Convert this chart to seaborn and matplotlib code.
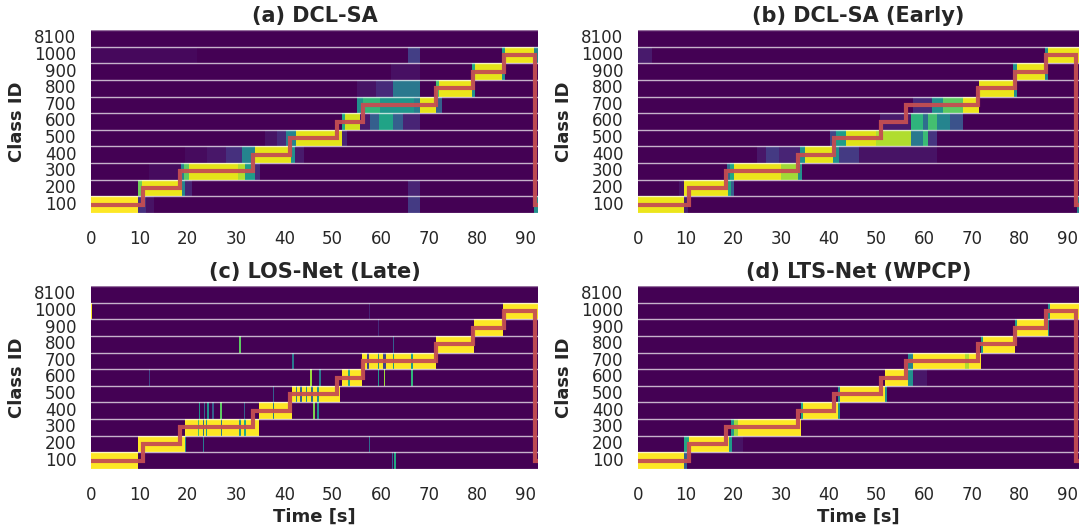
import numpy as np
import pandas as pd
import matplotlib
matplotlib.use("Agg")
import matplotlib.pyplot as plt
import seaborn as sns

# ---------------- data ----------------
CLASS_IDS = [8100, 1000, 900, 800, 700, 600, 500, 400, 300, 200, 100]
CLASS_LABELS = ["8100", "1000", "900", "800", "700", "600", "500", "400", "300", "200", "100"]
TIME_TICKS = [0, 10, 20, 30, 40, 50, 60, 70, 80, 90]
T_END = 92.5
DT = 0.1

# ground-truth class over time (step changes)
GT_TIMES = [0.0, 10.7, 18.4, 33.6, 41.1, 50.9, 56.2, 71.4, 79.0, 85.5, 91.8, 92.5]
GT_CLASS = [100, 200, 300, 400, 500, 600, 700, 800, 900, 1000, 100, 100]

TITLES = ["(a) DCL-SA", "(b) DCL-SA (Early)", "(c) LOS-Net (Late)", "(d) LTS-Net (WPCP)"]

# predicted class probability segments: (class_id, start_s, end_s, prob); later entries overwrite
SEG_A = [
    (1000, 0.0, 22.0, 0.02),
    (100, 0.0, 9.7, 1.0), (100, 9.7, 11.4, 0.14), (100, 11.4, 13.0, 0.05),
    (100, 65.6, 68.1, 0.17), (100, 91.6, 92.5, 0.5),
    (200, 9.7, 10.5, 0.78), (200, 10.5, 18.9, 0.97), (200, 18.9, 19.4, 0.45), (200, 19.4, 21.0, 0.1),
    (200, 65.6, 68.1, 0.1),
    (300, 12.0, 18.7, 0.03), (300, 18.7, 19.3, 0.45), (300, 19.3, 20.2, 0.75), (300, 20.2, 30.5, 0.96),
    (300, 30.5, 31.8, 0.88), (300, 31.8, 33.9, 0.55), (300, 33.9, 35.0, 0.12),
    (400, 19.4, 24.0, 0.03), (400, 24.0, 28.0, 0.06), (400, 28.0, 31.2, 0.14), (400, 31.2, 33.9, 0.45),
    (400, 33.9, 41.4, 0.96), (400, 41.4, 42.2, 0.5), (400, 42.2, 44.0, 0.07),
    (500, 36.0, 38.5, 0.05), (500, 38.5, 40.3, 0.12), (500, 40.3, 42.5, 0.45), (500, 42.5, 51.9, 0.96),
    (500, 51.9, 53.0, 0.1),
    (600, 51.9, 52.6, 0.6), (600, 52.6, 55.7, 0.93), (600, 55.7, 57.7, 0.07), (600, 57.7, 59.5, 0.3),
    (600, 59.5, 62.5, 0.58), (600, 62.5, 64.5, 0.3), (600, 64.5, 68.1, 0.1),
    (700, 55.0, 56.3, 0.5), (700, 56.3, 59.8, 0.66), (700, 59.8, 66.8, 0.52), (700, 66.8, 68.1, 0.42),
    (700, 68.1, 71.3, 0.96), (700, 71.3, 72.7, 0.3),
    (800, 55.0, 59.0, 0.05), (800, 59.0, 62.5, 0.12), (800, 62.5, 68.1, 0.4), (800, 71.3, 72.0, 0.7),
    (800, 72.0, 78.8, 0.97), (800, 78.8, 79.5, 0.5),
    (900, 62.0, 68.0, 0.04), (900, 78.8, 79.5, 0.6), (900, 79.5, 85.0, 0.96), (900, 85.0, 85.7, 0.5),
    (1000, 65.6, 68.1, 0.18), (1000, 85.0, 85.7, 0.55), (1000, 85.7, 91.6, 0.97), (1000, 91.6, 92.5, 0.45),
]

SEG_B = [
    (1000, 0.0, 3.0, 0.07),
    (100, 0.0, 9.7, 0.97), (100, 9.7, 10.5, 0.08), (100, 92.0, 92.5, 0.45),
    (200, 8.5, 9.7, 0.05), (200, 9.7, 18.9, 0.97), (200, 18.9, 19.5, 0.6), (200, 19.5, 20.1, 0.3),
    (300, 18.7, 19.3, 0.35), (300, 19.3, 20.1, 0.6), (300, 20.1, 30.0, 0.97), (300, 30.0, 33.5, 0.86),
    (300, 33.5, 34.3, 0.5),
    (400, 24.9, 26.9, 0.06), (400, 26.9, 29.6, 0.17), (400, 29.6, 33.9, 0.1), (400, 33.9, 35.0, 0.5),
    (400, 35.0, 40.8, 0.96), (400, 40.8, 42.2, 0.5), (400, 42.2, 46.3, 0.17), (400, 46.3, 62.7, 0.05),
    (500, 40.2, 41.5, 0.2), (500, 41.5, 43.6, 0.55), (500, 43.6, 50.0, 0.95), (500, 50.0, 57.3, 0.88),
    (500, 57.3, 59.8, 0.4), (500, 59.8, 60.8, 0.68), (500, 60.8, 62.7, 0.15),
    (600, 50.8, 57.3, 0.07), (600, 57.3, 59.8, 0.65), (600, 59.8, 60.8, 0.35), (600, 60.8, 62.8, 0.7),
    (600, 62.8, 65.5, 0.45), (600, 65.5, 68.2, 0.25),
    (700, 57.7, 61.6, 0.12), (700, 61.6, 64.0, 0.5), (700, 64.0, 68.2, 0.75), (700, 68.2, 71.5, 0.97),
    (800, 71.5, 78.9, 0.97), (800, 78.9, 79.6, 0.5),
    (900, 78.6, 79.4, 0.5), (900, 79.4, 85.3, 0.97), (900, 85.3, 86.0, 0.45),
    (1000, 85.3, 86.0, 0.5), (1000, 86.0, 92.5, 0.97),
]

SEG_C = [
    (1000, 0.0, 0.3, 1.0), (1000, 57.5, 57.8, 0.1), (1000, 85.2, 92.5, 1.0),
    (100, 0.0, 9.7, 1.0), (100, 62.6, 63.2, 0.6), (100, 62.2, 62.5, 0.3),
    (200, 9.7, 19.4, 1.0), (200, 19.4, 19.7, 0.5), (200, 23.1, 23.4, 0.4), (200, 57.5, 57.8, 0.35),
    (300, 19.4, 34.7, 1.0), (300, 22.1, 22.4, 0.7), (300, 23.1, 23.4, 0.35), (300, 23.7, 24.0, 0.55),
    (300, 26.8, 27.1, 0.4), (300, 30.7, 31.0, 0.5), (300, 31.7, 32.0, 0.6),
    (400, 22.3, 22.6, 0.5), (400, 23.3, 23.6, 0.35), (400, 24.1, 24.4, 0.5), (400, 25.1, 25.4, 0.3),
    (400, 26.7, 27.1, 0.75), (400, 31.6, 31.9, 0.3), (400, 34.7, 41.5, 1.0), (400, 37.6, 37.9, 0.4),
    (400, 45.9, 46.4, 0.8), (400, 46.8, 47.1, 0.5),
    (500, 37.6, 37.9, 0.3), (500, 41.5, 51.6, 1.0), (500, 42.4, 42.7, 0.45), (500, 43.3, 43.6, 0.3),
    (500, 44.4, 44.7, 0.5), (500, 45.6, 45.9, 0.35), (500, 46.8, 47.2, 0.5),
    (600, 12.0, 12.3, 0.2), (600, 45.3, 45.7, 0.85), (600, 47.2, 47.5, 0.4), (600, 51.9, 56.0, 1.0),
    (600, 53.2, 53.5, 0.6), (600, 59.4, 59.7, 0.5), (600, 60.6, 60.9, 0.85), (600, 66.3, 66.6, 0.65),
    (700, 41.6, 42.1, 0.4), (700, 56.0, 71.4, 1.0), (700, 57.2, 57.5, 0.2), (700, 59.4, 59.7, 0.5),
    (700, 60.4, 61.0, 0.2), (700, 62.5, 62.8, 0.5), (700, 66.3, 66.6, 0.55),
    (800, 30.7, 31.0, 0.75), (800, 62.5, 62.8, 0.3), (800, 71.4, 79.3, 1.0),
    (900, 59.4, 59.7, 0.12), (900, 79.3, 85.2, 1.0),
]

SEG_D = [
    (100, 0.0, 9.75, 1.0), (100, 9.75, 10.2, 0.3),
    (200, 9.75, 10.8, 0.6), (200, 10.8, 19.1, 1.0), (200, 19.1, 19.8, 0.55), (200, 19.8, 22.0, 0.05),
    (300, 19.5, 20.1, 0.55), (300, 20.1, 21.0, 0.85), (300, 21.0, 34.2, 1.0),
    (400, 34.2, 34.7, 0.6), (400, 34.7, 41.9, 1.0), (400, 41.9, 42.3, 0.5),
    (500, 41.9, 42.4, 0.5), (500, 42.4, 51.9, 1.0), (500, 51.9, 52.3, 0.5),
    (600, 51.9, 56.7, 1.0), (600, 56.7, 57.6, 0.5), (600, 57.6, 60.7, 0.06),
    (700, 56.7, 57.6, 0.45), (700, 57.6, 68.5, 1.0), (700, 68.5, 69.5, 0.88), (700, 69.5, 71.9, 1.0),
    (800, 71.9, 72.4, 0.55), (800, 72.4, 79.1, 1.0),
    (900, 79.1, 79.5, 0.55), (900, 79.5, 85.9, 1.0), (900, 85.9, 86.3, 0.5),
    (1000, 85.9, 86.4, 0.5), (1000, 86.4, 92.5, 1.0),
]

PANEL_SEGS = [SEG_A, SEG_B, SEG_C, SEG_D]


def build_frame(segs):
    n = int(round(T_END / DT))
    centers = (np.arange(n) + 0.5) * DT
    mat = np.zeros((len(CLASS_IDS), n))
    for cid, t0, t1, v in segs:
        r = CLASS_IDS.index(cid)
        mask = (centers >= t0) & (centers < t1)
        mat[r, mask] = v
    return pd.DataFrame(mat, index=CLASS_LABELS, columns=np.round(centers, 2))


# ---------------- plot ----------------
sns.set_theme(style="white")
plt.rcParams["font.family"] = ["DejaVu Sans"]
TEXT = "#262626"

fig = plt.figure(figsize=(10.81, 5.30), dpi=100)
H = 183 / 530
positions = [
    (91 / 1081, 1 - 213 / 530, 447 / 1081),
    (638 / 1081, 1 - 213 / 530, 441 / 1081),
    (91 / 1081, 1 - 469 / 530, 447 / 1081),
    (638 / 1081, 1 - 469 / 530, 441 / 1081),
]

for k in range(4):
    x0, y0, w = positions[k]
    ax = fig.add_axes([x0, y0, w, H])
    df = build_frame(PANEL_SEGS[k])
    sns.heatmap(df, ax=ax, cmap="viridis", vmin=0, vmax=1, cbar=False,
                xticklabels=False, yticklabels=True)
    nrows = len(CLASS_IDS)
    for b in range(nrows + 1):
        edge = b in (0, nrows)
        ax.axhline(b, color="white", lw=1.0, alpha=0.45 if edge else 0.7, zorder=3)
    gx = [t / DT for t in GT_TIMES]
    gy = [CLASS_IDS.index(c) + 0.5 for c in GT_CLASS]
    ax.step(gx, gy, where="post", color="#c44e52", lw=3.0, alpha=0.95, zorder=4,
            solid_joinstyle="miter")
    ax.set_xticks([t / DT for t in TIME_TICKS])
    ax.set_xticklabels([str(t) for t in TIME_TICKS], rotation=0)
    ax.set_yticks(np.arange(nrows) + 0.5)
    ax.set_yticklabels(CLASS_LABELS, rotation=0)
    ax.tick_params(axis="x", length=0, pad=12, labelsize=12, labelcolor=TEXT)
    ax.tick_params(axis="y", length=0, pad=10.5, labelsize=12, labelcolor=TEXT)
    ax.set_title(TITLES[k], fontsize=15, fontweight="bold", color=TEXT, pad=6)
    ax.set_ylabel("Class ID", fontsize=13, fontweight="bold", color=TEXT, labelpad=6)
    if k >= 2:
        ax.set_xlabel("Time [s]", fontsize=13, fontweight="bold", color=TEXT, labelpad=3)
    else:
        ax.set_xlabel("")

fig.savefig("out.png", dpi=100)
